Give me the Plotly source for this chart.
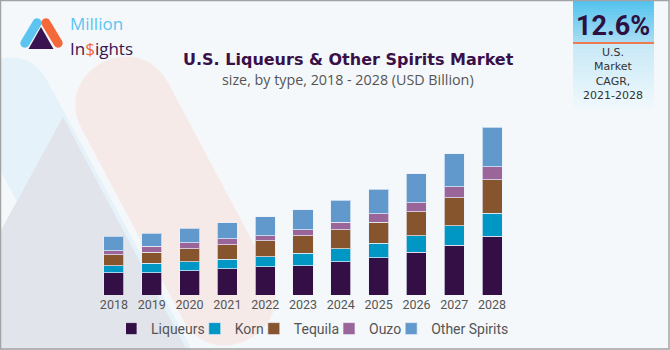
import plotly.graph_objects as go
import math

# ---------------- data ----------------
years = ["2018", "2019", "2020", "2021", "2022", "2023", "2024", "2025", "2026", "2027", "2028"]
liqueurs = [24.0, 24.2, 26.5, 28.7, 30.8, 31.9, 36.0, 40.3, 46.5, 54.2, 64.0]
korn = [7.9, 10.2, 9.5, 10.2, 10.9, 13.8, 14.2, 16.0, 18.1, 21.4, 25.1]
tequila = [11.8, 12.1, 14.5, 15.9, 17.1, 18.9, 20.7, 22.9, 26.2, 30.2, 36.3]
ouzo = [4.7, 6.3, 6.2, 6.2, 5.8, 6.5, 8.0, 9.0, 9.8, 12.0, 14.2]
other_spirits = [15.4, 14.4, 16.0, 17.4, 20.4, 21.8, 24.4, 26.9, 31.3, 36.0, 42.8]
series_names = ["Liqueurs", "Korn", "Tequila", "Ouzo", "Other Spirits"]
label_years = ["2018", "2019"]
label_texts = ["$63.8B", "$67.2B"]

colors = ["#330f45", "#0097c4", "#86552e", "#9a6598", "#6199cd"]

# ---------------- geometry helpers ----------------
W, H = 670, 350
ml, mr, mt, mb = 95, 159, 102, 55
pw, ph = W - ml - mr, H - mt - mb


def P(x, y):
    return ((x - ml) / pw, (H - mb - y) / ph)


def path_from_px(points, close=True):
    parts = []
    for cmd, pts in points:
        coords = " ".join("%.5f,%.5f" % P(*p) for p in pts)
        parts.append(cmd + coords)
    s = " ".join(parts)
    return s + (" Z" if close else "")


def capsule(p1, p2, r):
    dx, dy = p2[0] - p1[0], p2[1] - p1[1]
    L = math.hypot(dx, dy)
    d = (dx / L, dy / L)
    n = (-d[1], d[0])
    k = r * 4 / 3
    A1 = (p1[0] + n[0] * r, p1[1] + n[1] * r)
    B1 = (p1[0] - n[0] * r, p1[1] - n[1] * r)
    A2 = (p2[0] + n[0] * r, p2[1] + n[1] * r)
    B2 = (p2[0] - n[0] * r, p2[1] - n[1] * r)
    cmds = [
        ("M", [A1]),
        ("L", [A2]),
        ("C", [(A2[0] + d[0] * k, A2[1] + d[1] * k), (B2[0] + d[0] * k, B2[1] + d[1] * k), B2]),
        ("L", [B1]),
        ("C", [(B1[0] - d[0] * k, B1[1] - d[1] * k), (A1[0] - d[0] * k, A1[1] - d[1] * k), A1]),
    ]
    return path_from_px(cmds)


def poly(pts):
    cmds = [("M", [pts[0]])] + [("L", [p]) for p in pts[1:]]
    return path_from_px(cmds)


def rect(x0, y0, x1, y1, fill, layer="below"):
    a = P(x0, y0)
    b = P(x1, y1)
    return dict(type="rect", xref="paper", yref="paper", x0=a[0], y0=a[1], x1=b[0], y1=b[1],
                fillcolor=fill, line=dict(width=0), layer=layer)


def hexmix(c1, c2, t):
    a = [int(c1[i:i + 2], 16) for i in (1, 3, 5)]
    b = [int(c2[i:i + 2], 16) for i in (1, 3, 5)]
    return "#%02x%02x%02x" % tuple(round(a[i] + (b[i] - a[i]) * t) for i in range(3))


shapes = []
# big faint background logo shapes
shapes.append(dict(type="path", xref="paper", yref="paper", path=capsule((10, 100), (150, 360), 42),
                   fillcolor="#e5f2f9", line=dict(width=0), layer="below"))
shapes.append(dict(type="path", xref="paper", yref="paper", path=capsule((125, 106), (226, 296), 49),
                   fillcolor="#f6eae8", line=dict(width=0), layer="below"))
shapes.append(dict(type="path", xref="paper", yref="paper", path=poly([(63, 117), (-70, 360), (192, 360)]),
                   fillcolor="#e1e4eb", line=dict(width=0), layer="below"))

# small logo
shapes.append(dict(type="path", xref="paper", yref="paper", path=capsule((25, 43), (37, 23), 4.6),
                   fillcolor="#5bc4f1", line=dict(width=0), layer="above"))
shapes.append(dict(type="path", xref="paper", yref="paper", path=capsule((46, 23), (58, 43), 4.6),
                   fillcolor="#f4683a", line=dict(width=0), layer="above"))
shapes.append(dict(type="path", xref="paper", yref="paper", path=poly([(41, 27), (28.5, 49), (53.5, 49)]),
                   fillcolor="#3a1450", line=dict(width=0), layer="above"))

# CAGR box with gradient strips
bx0, bx1 = 573, 654
n_strips = 14
top0, top1 = 0, 42
for i in range(n_strips):
    y0 = top0 + (top1 - top0) * i / n_strips
    y1 = top0 + (top1 - top0) * (i + 1) / n_strips + 0.6
    shapes.append(rect(bx0, y0, bx1, min(y1, top1), hexmix("#53c3ee", "#a6dcf3", i / (n_strips - 1)), layer="above"))
bot0, bot1 = 44, 108
for i in range(n_strips):
    y0 = bot0 + (bot1 - bot0) * i / n_strips
    y1 = bot0 + (bot1 - bot0) * (i + 1) / n_strips + 0.6
    shapes.append(rect(bx0, y0, bx1, min(y1, bot1), hexmix("#c9e9f7", "#eef8fc", i / (n_strips - 1)), layer="above"))
shapes.append(rect(bx0, 42, bx1, 44, "#f07a4f", layer="above"))

# border
shapes.append(dict(type="rect", xref="paper", yref="paper",
                   x0=P(0.5, 0)[0], x1=P(669, 0)[0], y0=P(0, 0.5)[1], y1=P(0, 349)[1],
                   line=dict(width=1.5, color="#a3a3a3"), fillcolor="rgba(0,0,0,0)", layer="above"))

# ---------------- figure ----------------
fig = go.Figure()
for name, vals, col in zip(series_names, [liqueurs, korn, tequila, ouzo, other_spirits], colors):
    fig.add_trace(go.Bar(x=years, y=vals, name=name,
                         marker=dict(color=col, line=dict(color="rgba(235,240,250,0.7)", width=1))))

totals = [a + b + c + d + e for a, b, c, d, e in zip(liqueurs, korn, tequila, ouzo, other_spirits)]
annotations = []
for yr, txt in zip(label_years, label_texts):
    idx = years.index(yr)
    annotations.append(dict(x=yr, y=totals[idx], text=txt, showarrow=False, yanchor="bottom", yshift=1,
                            font=dict(size=13, color="#555555", family="Roboto")))


def ptext(x, y, text, size, color, bold=False, family="Roboto", xanchor="center", yanchor="middle"):
    px_, py_ = P(x, y)
    return dict(xref="paper", yref="paper", x=px_, y=py_, text=("<b>%s</b>" % text) if bold else text,
                showarrow=False, xanchor=xanchor, yanchor=yanchor, borderpad=0,
                font=dict(size=size, color=color, family=family))


annotations += [
    ptext(348, 59.5, "U.S. Liqueurs &amp; Other Spirits Market", 16, "#3a1048", bold=True, family="DejaVu Sans"),
    ptext(348, 79.5, "size, by type, 2018 - 2028 (USD Billion)", 14.3, "#555555", family="Open Sans"),
    ptext(613, 26, "12.6%", 27, "#2d1040", bold=True),
    ptext(613, 74.5, "U.S.<br>Market<br>CAGR,<br>2021-2028", 11, "#333333", family="DejaVu Sans"),
    ptext(69, 35.5, "Million", 17, "#5bc4f1", family="Open Sans", xanchor="left", yanchor="bottom"),
    ptext(69, 35.5, "In<span style='color:#f4683a'>$</span>ights", 17, "#3a1450", family="Open Sans",
          xanchor="left", yanchor="top"),
]

fig.update_layout(
    width=W, height=H,
    margin=dict(l=ml, r=mr, t=mt, b=mb, pad=0, autoexpand=False),
    barmode="stack", bargap=0.47,
    paper_bgcolor="#f4f8fb", plot_bgcolor="rgba(0,0,0,0)",
    font=dict(family="Roboto", color="#555555"),
    showlegend=True,
    legend=dict(orientation="h", x=(126 - ml) / pw, xanchor="left",
                y=P(0, 329)[1], yanchor="middle", indentation=-15,
                font=dict(size=14, color="#555555"), bgcolor="rgba(0,0,0,0)", traceorder="normal",
                itemwidth=30),
    xaxis=dict(type="category", showgrid=False, zeroline=False, showline=False, ticks="",
               tickfont=dict(size=12.5, color="#555555"), range=[-0.5, 10.5], fixedrange=True),
    yaxis=dict(visible=False, range=[0, 210], fixedrange=True),
    shapes=shapes,
    annotations=annotations,
)

fig.write_html("out.html", config={"displayModeBar": False})
